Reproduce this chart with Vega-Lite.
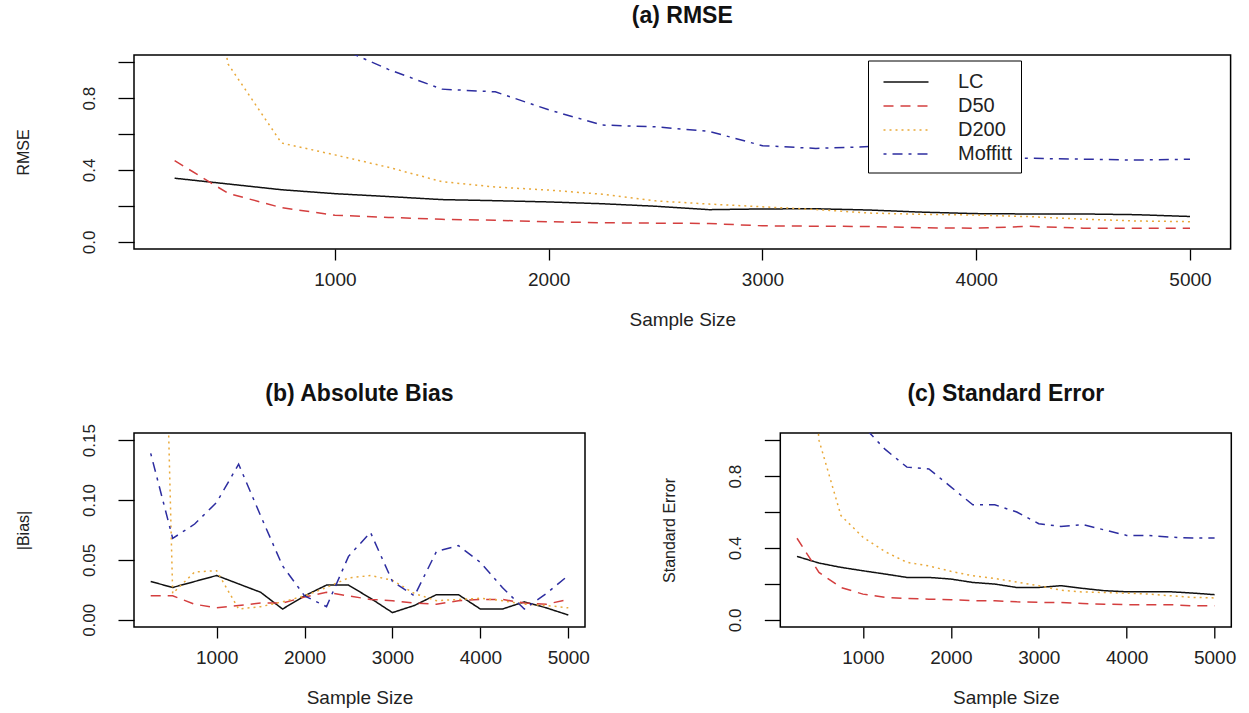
{
  "$schema": "https://vega.github.io/schema/vega-lite/v6.json",
  "background": "white",
  "padding": {"left": 14, "top": 4, "right": 0, "bottom": 0},
  "bounds": "flush",
  "spacing": 184,
  "config": {
    "font": "Liberation Sans",
    "view": {"stroke": "black", "strokeWidth": 1.5},
    "axis": {"domain": false, "grid": false, "ticks": true, "tickColor": "black", "tickWidth": 1.3, "labelColor": "#222", "titleColor": "#222", "titleFontWeight": "normal", "labelOverlap": false, "labelFlush": false, "labelBound": false},
    "axisX": {"tickSize": 11, "labelFontSize": 19, "labelPadding": 10, "titleFontSize": 19, "titlePadding": 21},
    "axisY": {"tickSize": 16, "labelFontSize": 17, "labelAngle": -90, "labelAlign": "center", "labelBaseline": "bottom", "labelPadding": 20, "titleFontSize": 16, "titlePadding": 49},
    "title": {"fontSize": 23, "fontWeight": "bold", "anchor": "middle", "frame": "group", "offset": 27, "color": "#111"}
  },
  "datasets": {
    "d": [
      {"n":250,"method":"LC","rmse":0.354,"bias":0.032,"se":0.353},
      {"n":500,"method":"LC","rmse":0.322,"bias":0.027,"se":0.316},
      {"n":750,"method":"LC","rmse":0.29,"bias":0.032,"se":0.292},
      {"n":1000,"method":"LC","rmse":0.268,"bias":0.037,"se":0.273},
      {"n":1250,"method":"LC","rmse":0.252,"bias":0.030,"se":0.255},
      {"n":1500,"method":"LC","rmse":0.235,"bias":0.023,"se":0.236},
      {"n":1750,"method":"LC","rmse":0.229,"bias":0.009,"se":0.236},
      {"n":2000,"method":"LC","rmse":0.222,"bias":0.020,"se":0.227},
      {"n":2250,"method":"LC","rmse":0.212,"bias":0.029,"se":0.208},
      {"n":2500,"method":"LC","rmse":0.198,"bias":0.029,"se":0.199},
      {"n":2750,"method":"LC","rmse":0.179,"bias":0.018,"se":0.180},
      {"n":3000,"method":"LC","rmse":0.183,"bias":0.006,"se":0.180},
      {"n":3250,"method":"LC","rmse":0.184,"bias":0.012,"se":0.190},
      {"n":3500,"method":"LC","rmse":0.177,"bias":0.021,"se":0.175},
      {"n":3750,"method":"LC","rmse":0.165,"bias":0.021,"se":0.162},
      {"n":4000,"method":"LC","rmse":0.157,"bias":0.009,"se":0.156},
      {"n":4250,"method":"LC","rmse":0.155,"bias":0.009,"se":0.156},
      {"n":4500,"method":"LC","rmse":0.155,"bias":0.015,"se":0.156},
      {"n":4750,"method":"LC","rmse":0.151,"bias":0.010,"se":0.149},
      {"n":5000,"method":"LC","rmse":0.141,"bias":0.004,"se":0.140},
      {"n":250,"method":"D50","rmse":0.452,"bias":0.020,"se":0.454},
      {"n":500,"method":"D50","rmse":0.27,"bias":0.020,"se":0.264},
      {"n":750,"method":"D50","rmse":0.19,"bias":0.013,"se":0.18},
      {"n":1000,"method":"D50","rmse":0.148,"bias":0.010,"se":0.143},
      {"n":1250,"method":"D50","rmse":0.136,"bias":0.012,"se":0.125},
      {"n":1500,"method":"D50","rmse":0.125,"bias":0.014,"se":0.119},
      {"n":1750,"method":"D50","rmse":0.12,"bias":0.014,"se":0.115},
      {"n":2000,"method":"D50","rmse":0.112,"bias":0.019,"se":0.112},
      {"n":2250,"method":"D50","rmse":0.106,"bias":0.023,"se":0.106},
      {"n":2500,"method":"D50","rmse":0.104,"bias":0.020,"se":0.106},
      {"n":2750,"method":"D50","rmse":0.102,"bias":0.017,"se":0.10},
      {"n":3000,"method":"D50","rmse":0.089,"bias":0.016,"se":0.097},
      {"n":3250,"method":"D50","rmse":0.087,"bias":0.014,"se":0.097},
      {"n":3500,"method":"D50","rmse":0.085,"bias":0.013,"se":0.091},
      {"n":3750,"method":"D50","rmse":0.078,"bias":0.016,"se":0.087},
      {"n":4000,"method":"D50","rmse":0.076,"bias":0.017,"se":0.084},
      {"n":4250,"method":"D50","rmse":0.086,"bias":0.017,"se":0.084},
      {"n":4500,"method":"D50","rmse":0.076,"bias":0.014,"se":0.084},
      {"n":4750,"method":"D50","rmse":0.075,"bias":0.013,"se":0.078},
      {"n":5000,"method":"D50","rmse":0.075,"bias":0.017,"se":0.078},
      {"n":250,"method":"D200","rmse":2.6,"bias":0.75,"se":2.5},
      {"n":500,"method":"D200","rmse":0.99,"bias":0.022,"se":1.0},
      {"n":750,"method":"D200","rmse":0.55,"bias":0.040,"se":0.58},
      {"n":1000,"method":"D200","rmse":0.484,"bias":0.041,"se":0.46},
      {"n":1250,"method":"D200","rmse":0.415,"bias":0.009,"se":0.38},
      {"n":1500,"method":"D200","rmse":0.335,"bias":0.011,"se":0.32},
      {"n":1750,"method":"D200","rmse":0.305,"bias":0.015,"se":0.30},
      {"n":2000,"method":"D200","rmse":0.288,"bias":0.020,"se":0.27},
      {"n":2250,"method":"D200","rmse":0.265,"bias":0.027,"se":0.245},
      {"n":2500,"method":"D200","rmse":0.228,"bias":0.035,"se":0.23},
      {"n":2750,"method":"D200","rmse":0.21,"bias":0.037,"se":0.21},
      {"n":3000,"method":"D200","rmse":0.195,"bias":0.033,"se":0.19},
      {"n":3250,"method":"D200","rmse":0.18,"bias":0.022,"se":0.165},
      {"n":3500,"method":"D200","rmse":0.16,"bias":0.016,"se":0.155},
      {"n":3750,"method":"D200","rmse":0.153,"bias":0.017,"se":0.152},
      {"n":4000,"method":"D200","rmse":0.149,"bias":0.018,"se":0.148},
      {"n":4250,"method":"D200","rmse":0.14,"bias":0.016,"se":0.143},
      {"n":4500,"method":"D200","rmse":0.126,"bias":0.013,"se":0.134},
      {"n":4750,"method":"D200","rmse":0.116,"bias":0.012,"se":0.125},
      {"n":5000,"method":"D200","rmse":0.112,"bias":0.010,"se":0.122},
      {"n":250,"method":"Moffitt","rmse":2.1,"bias":0.139,"se":2.0},
      {"n":500,"method":"Moffitt","rmse":1.65,"bias":0.068,"se":1.6},
      {"n":750,"method":"Moffitt","rmse":1.35,"bias":0.080,"se":1.3},
      {"n":1000,"method":"Moffitt","rmse":1.09,"bias":0.098,"se":1.08},
      {"n":1250,"method":"Moffitt","rmse":0.96,"bias":0.130,"se":0.95},
      {"n":1500,"method":"Moffitt","rmse":0.85,"bias":0.087,"se":0.85},
      {"n":1750,"method":"Moffitt","rmse":0.835,"bias":0.045,"se":0.84},
      {"n":2000,"method":"Moffitt","rmse":0.735,"bias":0.020,"se":0.74},
      {"n":2250,"method":"Moffitt","rmse":0.65,"bias":0.011,"se":0.64},
      {"n":2500,"method":"Moffitt","rmse":0.64,"bias":0.053,"se":0.64},
      {"n":2750,"method":"Moffitt","rmse":0.615,"bias":0.073,"se":0.60},
      {"n":3000,"method":"Moffitt","rmse":0.535,"bias":0.032,"se":0.535},
      {"n":3250,"method":"Moffitt","rmse":0.52,"bias":0.020,"se":0.52},
      {"n":3500,"method":"Moffitt","rmse":0.53,"bias":0.057,"se":0.53},
      {"n":3750,"method":"Moffitt","rmse":0.505,"bias":0.062,"se":0.50},
      {"n":4000,"method":"Moffitt","rmse":0.47,"bias":0.048,"se":0.47},
      {"n":4250,"method":"Moffitt","rmse":0.465,"bias":0.027,"se":0.47},
      {"n":4500,"method":"Moffitt","rmse":0.46,"bias":0.009,"se":0.46},
      {"n":4750,"method":"Moffitt","rmse":0.455,"bias":0.022,"se":0.455},
      {"n":5000,"method":"Moffitt","rmse":0.46,"bias":0.037,"se":0.455}
    ]
  },
  "data": {"name": "d"},
  "resolve": {"scale": {"color": "independent", "strokeDash": "independent"}, "legend": {"color": "independent", "strokeDash": "independent"}},
  "vconcat": [
    {
      "width": 1096.6,
      "height": 194,
      "title": "(a) RMSE",
      "mark": {"type": "line", "clip": true, "strokeWidth": 1.5},
      "encoding": {
        "x": {"field": "n", "type": "quantitative", "scale": {"domain": [60, 5190], "nice": false, "zero": false}, "axis": {"values": [1000, 2000, 3000, 4000, 5000], "format": "d", "title": "Sample Size"}},
        "y": {"field": "rmse", "type": "quantitative", "scale": {"domain": [-0.04, 1.04], "nice": false, "zero": false}, "axis": {"values": [0, 0.2, 0.4, 0.6, 0.8, 1], "labelExpr": "datum.value == 0 || datum.value == 0.4 || datum.value == 0.8 ? format(datum.value, '.1f') : ''", "title": "RMSE"}},
        "color": {"field": "method", "type": "nominal", "scale": {"domain": ["LC", "D50", "D200", "Moffitt"], "range": ["#111111", "#d43f3f", "#e9a93a", "#2d2da0"]},
          "legend": {"orient": "none", "legendX": 734, "legendY": 5.5, "title": null, "strokeColor": "black", "fillColor": "white", "padding": 8, "labelFontSize": 20, "labelColor": "#222", "symbolType": "M-1.8,0H1.8", "symbolSize": 625, "symbolStrokeWidth": 1.5, "symbolOffset": 16.5, "rowPadding": 0, "labelOffset": 38.5, "cornerRadius": 0}},
        "strokeDash": {"field": "method", "type": "nominal", "scale": {"domain": ["LC", "D50", "D200", "Moffitt"], "range": [[1, 0], [10, 7], [2, 4], [3, 6, 10, 6]]},
          "legend": {"orient": "none", "legendX": 734, "legendY": 5.5, "title": null, "strokeColor": "black", "fillColor": "white", "padding": 8, "labelFontSize": 20, "labelColor": "#222", "symbolType": "M-1.8,0H1.8", "symbolSize": 625, "symbolStrokeWidth": 1.5, "symbolOffset": 16.5, "rowPadding": 0, "labelOffset": 38.5, "cornerRadius": 0}}
      }
    },
    {
      "spacing": 195.3,
      "bounds": "flush",
      "hconcat": [
        {
          "width": 451,
          "height": 194,
          "title": {"text": "(b) Absolute Bias", "offset": 18},
          "mark": {"type": "line", "clip": true, "strokeWidth": 1.5},
          "encoding": {
            "x": {"field": "n", "type": "quantitative", "scale": {"domain": [60, 5190], "nice": false, "zero": false}, "axis": {"values": [1000, 2000, 3000, 4000, 5000], "format": "d", "title": "Sample Size"}},
            "y": {"field": "bias", "type": "quantitative", "scale": {"domain": [-0.006, 0.156], "nice": false, "zero": false}, "axis": {"values": [0, 0.05, 0.1, 0.15], "format": ".2f", "title": "|Bias|"}},
            "color": {"field": "method", "type": "nominal", "scale": {"domain": ["LC", "D50", "D200", "Moffitt"], "range": ["#111111", "#d43f3f", "#e9a93a", "#2d2da0"]}, "legend": null},
            "strokeDash": {"field": "method", "type": "nominal", "scale": {"domain": ["LC", "D50", "D200", "Moffitt"], "range": [[1, 0], [10, 7], [2, 4], [3, 6, 10, 6]]}, "legend": null}
          }
        },
        {
          "width": 451,
          "height": 194,
          "title": "(c) Standard Error",
          "mark": {"type": "line", "clip": true, "strokeWidth": 1.5},
          "encoding": {
            "x": {"field": "n", "type": "quantitative", "scale": {"domain": [60, 5190], "nice": false, "zero": false}, "axis": {"values": [1000, 2000, 3000, 4000, 5000], "format": "d", "title": "Sample Size"}},
            "y": {"field": "se", "type": "quantitative", "scale": {"domain": [-0.04, 1.04], "nice": false, "zero": false}, "axis": {"values": [0, 0.2, 0.4, 0.6, 0.8, 1], "labelExpr": "datum.value == 0 || datum.value == 0.4 || datum.value == 0.8 ? format(datum.value, '.1f') : ''", "title": "Standard Error"}},
            "color": {"field": "method", "type": "nominal", "scale": {"domain": ["LC", "D50", "D200", "Moffitt"], "range": ["#111111", "#d43f3f", "#e9a93a", "#2d2da0"]}, "legend": null},
            "strokeDash": {"field": "method", "type": "nominal", "scale": {"domain": ["LC", "D50", "D200", "Moffitt"], "range": [[1, 0], [10, 7], [2, 4], [3, 6, 10, 6]]}, "legend": null}
          }
        }
      ]
    }
  ]
}
